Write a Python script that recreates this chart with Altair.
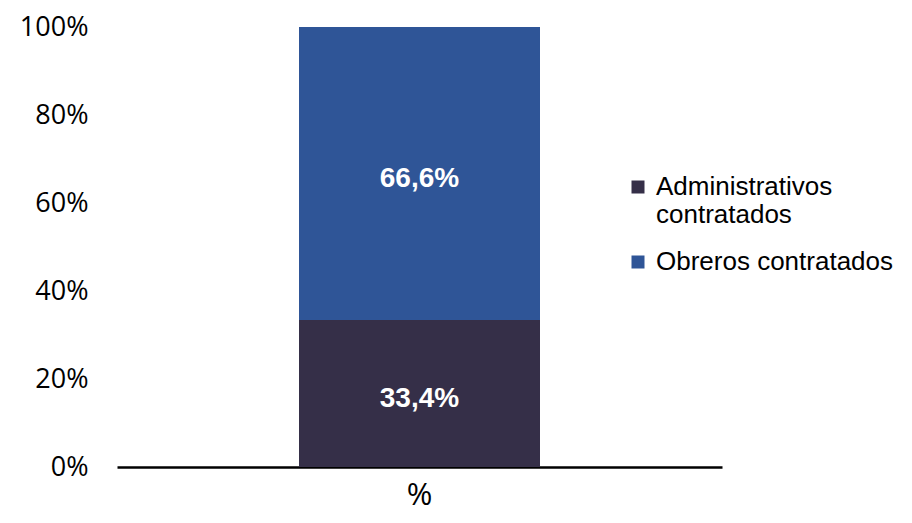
import altair as alt
import pandas as pd

categories = ["%", "%"]
series = ["Administrativos contratados", "Obreros contratados"]
values = [33.4, 66.6]
y_ticks = [0, 20, 40, 60, 80, 100]
colors = ["#352F48", "#2F5597"]

df = pd.DataFrame({"cat": categories, "serie": series, "v": values})

base = alt.Chart(df).transform_stack(
    stack="v", groupby=["cat"], as_=["v0", "v1"], sort=[alt.SortField("serie")]
).transform_calculate(
    mid="(datum.v0 + datum.v1) / 2",
    lbl="replace(format(datum.v, '.1f'), '.', ',') + '%'",
)

x_enc = alt.X(
    "cat:N",
    axis=alt.Axis(
        title=None, labelFontSize=31, labelFont="Open Sans", labelColor="black",
        labelPadding=13, labelAngle=0, ticks=False, domainColor="black", domainWidth=2.5,
    ),
)

bars = base.mark_bar(size=241).encode(
    x=x_enc,
    y=alt.Y(
        "v0:Q",
        scale=alt.Scale(domain=[0, 100], nice=False),
        axis=alt.Axis(
            title=None, values=y_ticks, labelExpr="datum.value + '%'", grid=False,
            ticks=False, domain=False, labelFont="Open Sans", labelFontSize=27,
            labelColor="black", labelPadding=29,
        ),
    ),
    y2="v1:Q",
    color=alt.Color(
        "serie:N",
        scale=alt.Scale(domain=series, range=colors),
        legend=alt.Legend(
            title=None, orient="none", legendX=508, legendY=147, symbolType="square",
            symbolSize=169, symbolStrokeWidth=0, labelFont="Liberation Sans",
            labelFontSize=26, labelColor="black", labelOffset=5, labelLimit=400,
            rowPadding=21,
            labelExpr="datum.label == 'Administrativos contratados' ? ['Administrativos', 'contratados'] : datum.label",
        ),
    ),
)

texts = base.mark_text(
    color="white", fontWeight="bold", font="Liberation Sans", fontSize=28,
    baseline="middle", dy=5,
).encode(
    x=alt.X("cat:N"),
    y=alt.Y("mid:Q"),
    text="lbl:N",
)

chart = alt.layer(bars, texts).properties(
    width=605, height=440,
    autosize=alt.AutoSizeParams(type="none"),
    padding={"left": 109, "top": 19, "right": 182, "bottom": 48},
    background="white",
).configure_view(stroke=None)

chart.save("out.html", embed_options={"renderer": "svg", "actions": False})
